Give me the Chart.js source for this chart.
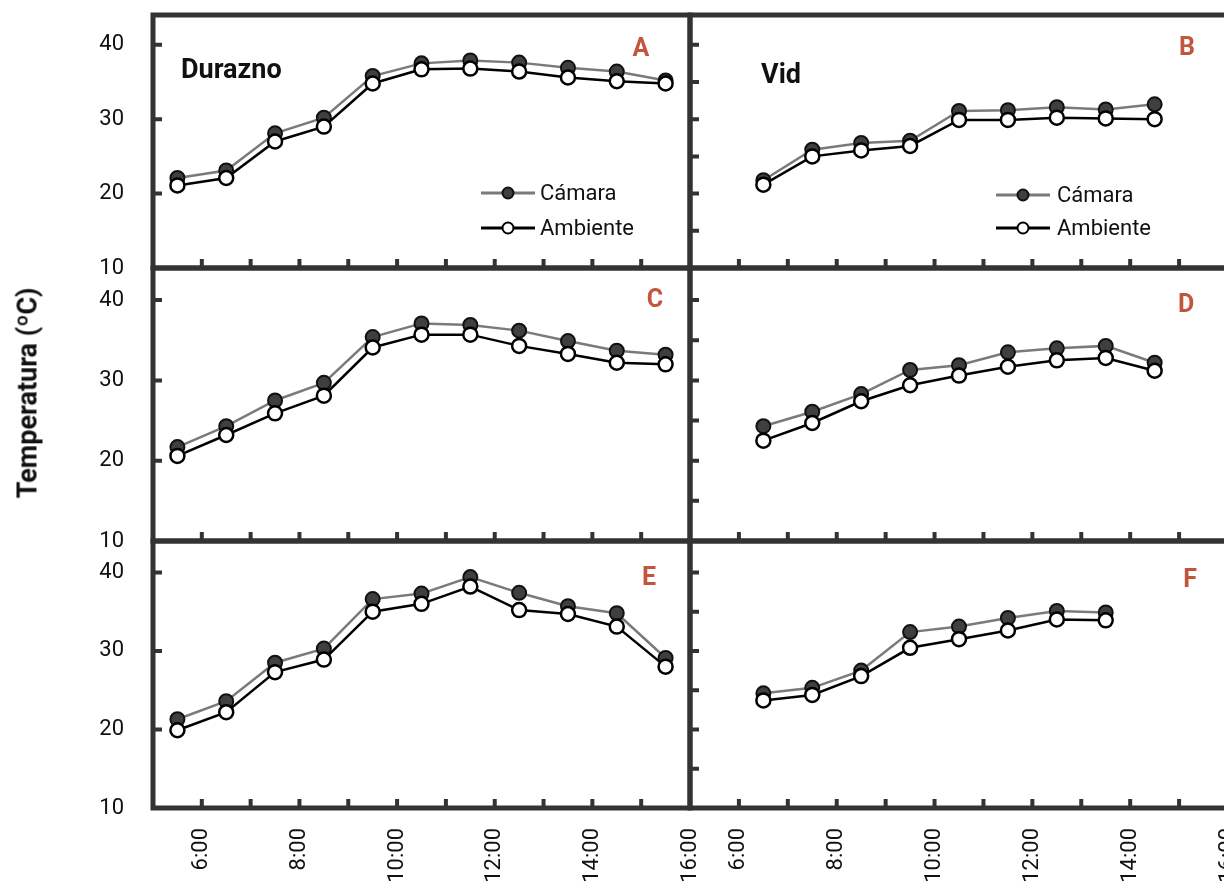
<!DOCTYPE html>
<html>
<head>
<meta charset="utf-8">
<script src="https://cdn.jsdelivr.net/npm/chart.js@4.4.1/dist/chart.umd.min.js"></script>
<style>
  html, body { margin: 0; padding: 0; background: #fff; overflow: hidden; width: 1224px; height: 882px; }
  .caja { position: absolute; }
  .txt { position: absolute; font-family: Roboto, sans-serif; line-height: 1; white-space: nowrap; transform: translate(0, -50%); color: #111; }
  .esp { font-size: 27px; font-weight: bold; }
  .letra { font-size: 25px; font-weight: bold; color: #c4553d; transform: translate(-50%, -50%); }
  #titY { left: 28px; top: 393px; font-size: 27px; font-weight: bold; transform: translate(-50%, -50%) rotate(-90deg); }
</style>
</head>
<body>
<div class="caja" id="pA"><canvas id="cA"></canvas></div>
<div class="caja" id="pB"><canvas id="cB"></canvas></div>
<div class="caja" id="pC"><canvas id="cC"></canvas></div>
<div class="caja" id="pD"><canvas id="cD"></canvas></div>
<div class="caja" id="pE"><canvas id="cE"></canvas></div>
<div class="caja" id="pF"><canvas id="cF"></canvas></div>

<div class="txt esp" style="left:181px; top:69px;">Durazno</div>
<div class="txt esp" style="left:761px; top:74px;">Vid</div>
<div class="txt letra" style="left:641px; top:47px;">A</div>
<div class="txt letra" style="left:1187px; top:46px;">B</div>
<div class="txt letra" style="left:655px; top:298px;">C</div>
<div class="txt letra" style="left:1186px; top:303px;">D</div>
<div class="txt letra" style="left:649px; top:576px;">E</div>
<div class="txt letra" style="left:1190px; top:578px;">F</div>
<div class="txt" id="titY">Temperatura (ºC)</div>

<script>
// horas de medicion
var horasIzq = [5.5, 6.5, 7.5, 8.5, 9.5, 10.5, 11.5, 12.5, 13.5, 14.5, 15.5];
var horasDer = [6.5, 7.5, 8.5, 9.5, 10.5, 11.5, 12.5, 13.5, 14.5];
var horasF = [6.5, 7.5, 8.5, 9.5, 10.5, 11.5, 12.5, 13.5];

// etiquetas de eje
var ticksHora = [6, 7, 8, 9, 10, 11, 12, 13, 14, 15];
var etiquetasX = ['6:00', '8:00', '10:00', '12:00', '14:00', '16:00'];
var ticksYIzq = [20, 30, 40];
var ticksYDer = [15, 20, 25, 30, 35, 40];

// Durazno
var camA = [22.1, 23.1, 28.1, 30.2, 35.8, 37.5, 37.9, 37.6, 36.9, 36.4, 35.2];
var ambA = [21.1, 22.1, 27.0, 29.0, 34.8, 36.7, 36.8, 36.4, 35.6, 35.1, 34.8];
var camC = [21.7, 24.3, 27.5, 29.7, 35.4, 37.1, 36.9, 36.2, 34.9, 33.7, 33.2];
var ambC = [20.6, 23.2, 25.9, 28.1, 34.1, 35.7, 35.7, 34.3, 33.3, 32.2, 32.0];
var camE = [21.3, 23.6, 28.5, 30.3, 36.6, 37.3, 39.4, 37.4, 35.7, 34.8, 29.1];
var ambE = [19.9, 22.2, 27.3, 28.9, 35.0, 36.0, 38.2, 35.2, 34.7, 33.1, 28.0];

// Vid
var camB = [21.8, 25.9, 26.8, 27.1, 31.1, 31.2, 31.6, 31.3, 32.0];
var ambB = [21.2, 25.0, 25.8, 26.4, 29.9, 29.9, 30.2, 30.1, 30.0];
var camD = [24.3, 26.1, 28.3, 31.3, 31.9, 33.5, 34.0, 34.3, 32.2];
var ambD = [22.5, 24.7, 27.4, 29.4, 30.6, 31.7, 32.5, 32.8, 31.2];
var camF = [24.6, 25.3, 27.5, 32.4, 33.1, 34.2, 35.1, 34.9];
var ambF = [23.7, 24.4, 26.8, 30.4, 31.5, 32.6, 34.0, 33.9];

var nombres = ['Cámara', 'Ambiente'];

var P = 50;   // margen amplio para que Chart.js no encoja el area
var colX = [[153, 690], [690, 1228]];
var filaY = [[15, 268], [268, 541], [541, 808]];
var fuente = 'Roboto, sans-serif';

function marco(ticksY, leyenda) {
  return {
    id: 'marco',
    beforeDatasetsDraw: function(chart) {
      var a = chart.chartArea, ctx = chart.ctx;
      var sx = chart.scales.x, sy = chart.scales.y;
      ctx.save();
      ctx.strokeStyle = '#333';
      ctx.lineWidth = 4;
      ctx.beginPath();
      ticksHora.forEach(function(h) {
        var px = sx.getPixelForValue(h);
        ctx.moveTo(px, a.bottom);
        ctx.lineTo(px, a.bottom - 9);
      });
      ticksY.forEach(function(v) {
        var py = sy.getPixelForValue(v);
        ctx.moveTo(a.left, py);
        ctx.lineTo(a.left + 9, py);
      });
      ctx.stroke();
      ctx.lineWidth = 5;
      ctx.strokeRect(a.left, a.top, a.right - a.left, a.bottom - a.top);
      ctx.restore();
    },
    afterDatasetsDraw: function(chart) {
      if (!leyenda) return;
      var a = chart.chartArea, ctx = chart.ctx;
      ctx.save();
      chart.data.datasets.forEach(function(ds, i) {
        var y = a.top + leyenda.filas[i];
        ctx.strokeStyle = ds.borderColor;
        ctx.lineWidth = 3;
        ctx.beginPath();
        ctx.moveTo(a.left + leyenda.x0, y);
        ctx.lineTo(a.left + leyenda.x1, y);
        ctx.stroke();
        ctx.beginPath();
        ctx.arc(a.left + leyenda.xm, y, 5.5, 0, Math.PI * 2);
        ctx.fillStyle = ds.pointBackgroundColor;
        ctx.fill();
        ctx.lineWidth = 2;
        ctx.strokeStyle = ds.pointBorderColor;
        ctx.stroke();
        ctx.fillStyle = '#111';
        ctx.font = '22px ' + fuente;
        ctx.textBaseline = 'middle';
        ctx.textAlign = 'left';
        ctx.fillText(ds.label, a.left + leyenda.xt, y + 1);
      });
      ctx.restore();
    }
  };
}

function crear(id, horas, cam, amb, col, fila, leyenda) {
  var izq = col === 0, abajo = fila === 2;
  var ejeY = izq ? 60 : 0, ejeX = abajo ? 80 : 0;
  var x0 = colX[col][0], x1 = colX[col][1], y0 = filaY[fila][0], y1 = filaY[fila][1];
  var caja = document.getElementById('p' + id);
  caja.style.left = (x0 - ejeY - P) + 'px';
  caja.style.top = (y0 - P) + 'px';
  caja.style.width = (x1 - x0 + ejeY + 2 * P) + 'px';
  caja.style.height = (y1 - y0 + ejeX + 2 * P) + 'px';

  new Chart(document.getElementById('c' + id), {
    type: 'line',
    data: {
      datasets: [
        {
          label: nombres[0],
          data: horas.map(function(h, i) { return { x: h, y: cam[i] }; }),
          borderColor: '#7a7a7a',
          borderWidth: 2.5,
          pointRadius: 7,
          pointBorderWidth: 2,
          pointBackgroundColor: '#3f3f3f',
          pointBorderColor: '#111',
          order: 1
        },
        {
          label: nombres[1],
          data: horas.map(function(h, i) { return { x: h, y: amb[i] }; }),
          borderColor: '#000',
          borderWidth: 2.5,
          pointRadius: 7,
          pointBorderWidth: 2.5,
          pointBackgroundColor: '#fff',
          pointBorderColor: '#000',
          order: 0
        }
      ]
    },
    options: {
      responsive: true,
      maintainAspectRatio: false,
      animation: false,
      layout: { padding: { left: P, right: P, top: P, bottom: P } },
      plugins: { legend: { display: false }, tooltip: { enabled: false } },
      scales: {
        x: {
          type: 'linear',
          min: 5,
          max: 16,
          grid: { display: false, drawTicks: false },
          border: { display: false },
          ticks: {
            display: abajo,
            stepSize: 1,
            autoSkip: false,
            maxRotation: 90,
            minRotation: 90,
            padding: 20,
            color: '#111',
            font: { family: fuente, size: 22 },
            callback: function(v) {
              return (v >= 6 && v % 2 === 0) ? etiquetasX[(v - 6) / 2] : '';
            }
          },
          afterFit: function(s) { s.height = ejeX; }
        },
        y: {
          min: 10,
          max: 44,
          grid: { display: false, drawTicks: false },
          border: { display: false },
          ticks: {
            display: izq,
            stepSize: 10,
            includeBounds: false,
            padding: 29,
            color: '#111',
            font: { family: fuente, size: 22 }
          },
          afterFit: function(s) { s.width = ejeY; }
        }
      }
    },
    plugins: [marco(izq ? ticksYIzq : ticksYDer, leyenda)]
  });
}

crear('A', horasIzq, camA, ambA, 0, 0, { x0: 328, x1: 382, xm: 355, xt: 387, filas: [178, 213] });
crear('B', horasDer, camB, ambB, 1, 0, { x0: 306, x1: 360, xm: 333, xt: 367, filas: [180, 213] });
crear('C', horasIzq, camC, ambC, 0, 1, null);
crear('D', horasDer, camD, ambD, 1, 1, null);
crear('E', horasIzq, camE, ambE, 0, 2, null);
crear('F', horasF, camF, ambF, 1, 2, null);
</script>
</body>
</html>
